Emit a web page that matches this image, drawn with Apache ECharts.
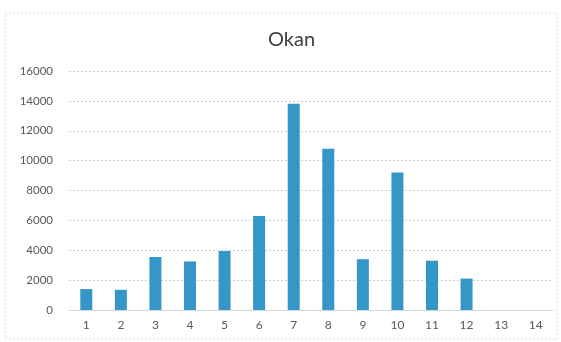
<!DOCTYPE html>
<html>
<head>
<meta charset="utf-8">
<script src="https://cdn.jsdelivr.net/npm/echarts@6/dist/echarts.min.js"></script>
<style>
html,body{margin:0;padding:0;background:#fff;}
#c{width:561px;height:342px;}
</style>
</head>
<body>
<div id="c"></div>
<script>
const categories = ['1','2','3','4','5','6','7','8','9','10','11','12','13','14'];
const values = [1400, 1350, 3550, 3250, 3950, 6300, 13800, 10800, 3400, 9200, 3300, 2100, 0, 0];
const yTicks = [0, 2000, 4000, 6000, 8000, 10000, 12000, 14000, 16000];

const chart = echarts.init(document.getElementById('c'), null, {renderer:'canvas'});
chart.setOption({
  animation: false,
  backgroundColor: '#fff',
  title: {
    text: 'Okan',
    left: 263,
    top: 25,
    textStyle: {fontFamily: 'Lato', fontSize: 20, fontWeight: 'normal', color: '#404040'}
  },
  graphic: [{
    type: 'rect',
    shape: {x: 5, y: 13, width: 552, height: 326},
    style: {fill: 'none', stroke: '#d8d8d8', lineWidth: 1, lineDash: [2, 2]},
    silent: true
  }],
  grid: {left: 69, right: 8, top: 71, bottom: 32},
  xAxis: {
    type: 'category',
    data: categories,
    axisTick: {show: false},
    axisLine: {show: true, lineStyle: {color: '#d9d9d9'}},
    axisLabel: {fontFamily: 'Lato', fontSize: 12, color: '#595959', margin: 9}
  },
  yAxis: {
    type: 'value',
    min: yTicks[0],
    max: yTicks[yTicks.length - 1],
    interval: 2000,
    axisLine: {show: false},
    axisTick: {show: false},
    axisLabel: {fontFamily: 'Lato', fontSize: 11.5, color: '#595959', margin: 16,
      formatter: function (v) { return String(v); }},
    splitLine: {lineStyle: {color: '#d0d0d0', type: [2, 2]}}
  },
  series: [{
    type: 'bar',
    data: values,
    barWidth: 12,
    itemStyle: {color: '#3596c8'}
  }]
});
</script>
</body>
</html>
